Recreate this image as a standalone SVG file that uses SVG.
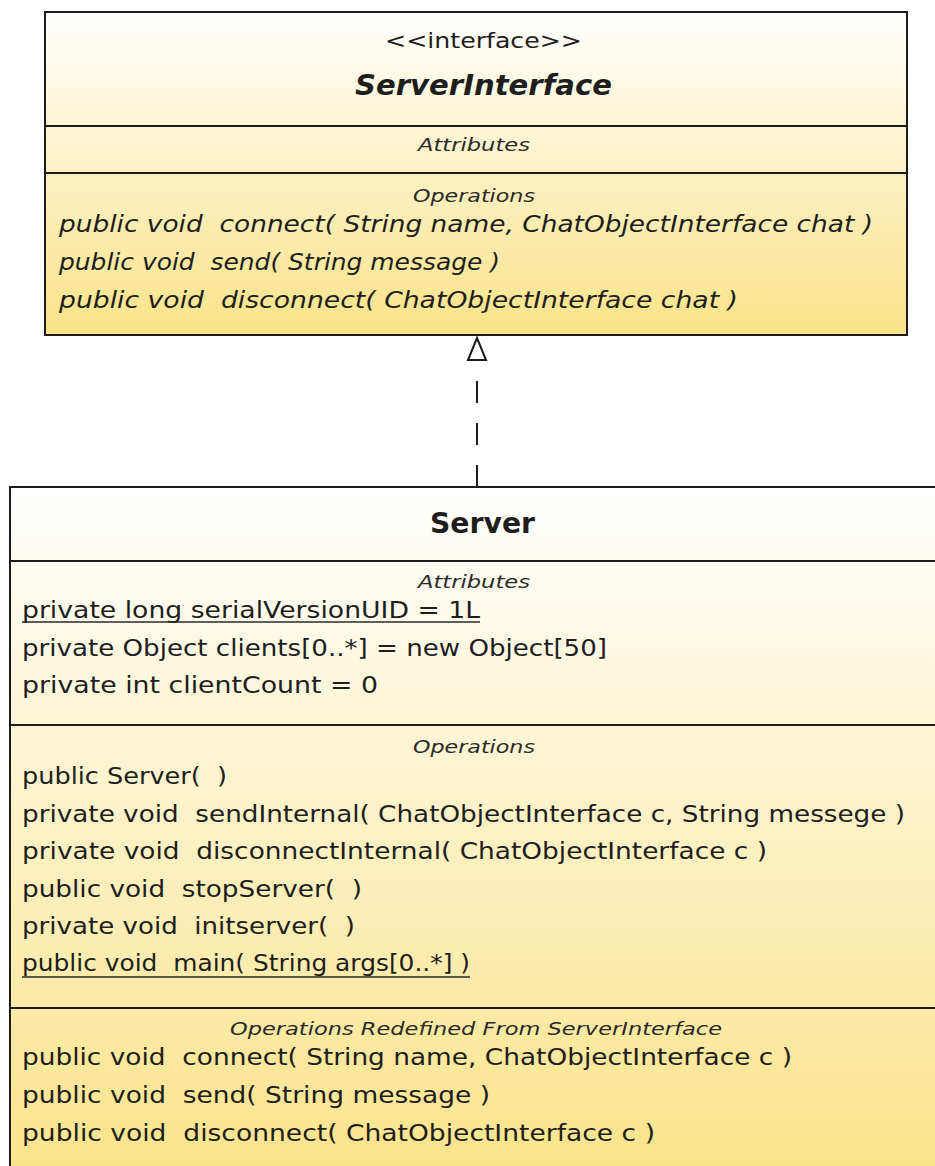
<svg xmlns="http://www.w3.org/2000/svg" width="935" height="1166" viewBox="0 0 935 1166">
<style>
text{font-family:"DejaVu Sans","Liberation Sans",sans-serif;fill:#1e1e1e;white-space:pre}
.m{font-size:23px}
.i{font-style:italic}
.lbl{font-size:18.5px;font-style:italic;fill:#2a2a2a}
.box{stroke:#1c1c1c;stroke-width:2}
.div{stroke:#1c1c1c;stroke-width:2}
.ul{stroke:#2a2a2a;stroke-width:1.5}
</style>
<defs>
<linearGradient id="g1" x1="0" y1="0" x2="0" y2="1">
<stop offset="0" stop-color="#ffffff"/>
<stop offset="1" stop-color="#fae388"/>
</linearGradient>
<linearGradient id="g2" x1="0" y1="0" x2="0" y2="1">
<stop offset="0" stop-color="#ffffff"/>
<stop offset="1" stop-color="#fae388"/>
</linearGradient>
</defs>
<rect width="935" height="1166" fill="#ffffff"/>
<g id="connectors">
<line x1="477" y1="487" x2="477" y2="360" stroke="#1c1c1c" stroke-width="2" stroke-dasharray="22 20"/>
<polygon points="477,338 468,360 486,360" fill="#ffffff" stroke="#1c1c1c" stroke-width="2"/>
</g>
<g id="ServerInterface">
<rect x="45" y="12" width="862" height="323" fill="url(#g1)" class="box"/>
<line x1="45" y1="126" x2="907" y2="126" class="div"/>
<line x1="45" y1="173" x2="907" y2="173" class="div"/>
<text x="483.5" y="48" font-size="21.5" text-anchor="middle" textLength="197" lengthAdjust="spacingAndGlyphs">&lt;&lt;interface&gt;&gt;</text>
<text x="483.5" y="95" font-size="29" font-weight="bold" font-style="italic" text-anchor="middle" textLength="257" lengthAdjust="spacingAndGlyphs">ServerInterface</text>
<text x="474" y="151" class="lbl" text-anchor="middle" textLength="112" lengthAdjust="spacingAndGlyphs">Attributes</text>
<text x="474" y="202" class="lbl" text-anchor="middle" textLength="122" lengthAdjust="spacingAndGlyphs">Operations</text>
<text x="59" y="232" class="m i" textLength="814" lengthAdjust="spacingAndGlyphs">public void  connect( String name, ChatObjectInterface chat )</text>
<text x="59" y="270" class="m i" textLength="441" lengthAdjust="spacingAndGlyphs">public void  send( String message )</text>
<text x="59" y="308" class="m i" textLength="679" lengthAdjust="spacingAndGlyphs">public void  disconnect( ChatObjectInterface chat )</text>
</g>
<g id="Server">
<rect x="10" y="487" width="940" height="700" fill="url(#g2)" class="box"/>
<line x1="10" y1="561" x2="935" y2="561" class="div"/>
<line x1="10" y1="725" x2="935" y2="725" class="div"/>
<line x1="10" y1="1008" x2="935" y2="1008" class="div"/>
<text x="482.5" y="533" font-size="29" font-weight="bold" text-anchor="middle" textLength="105" lengthAdjust="spacingAndGlyphs">Server</text>
<text x="474" y="588" class="lbl" text-anchor="middle" textLength="112" lengthAdjust="spacingAndGlyphs">Attributes</text>
<text x="22" y="618" class="m" textLength="458" lengthAdjust="spacingAndGlyphs">private long serialVersionUID = 1L</text>
<line x1="22" y1="622" x2="480" y2="622" class="ul"/>
<text x="22" y="656" class="m" textLength="585" lengthAdjust="spacingAndGlyphs">private Object clients[0..*] = new Object[50]</text>
<text x="22" y="693" class="m" textLength="356" lengthAdjust="spacingAndGlyphs">private int clientCount = 0</text>
<text x="474" y="753" class="lbl" text-anchor="middle" textLength="122" lengthAdjust="spacingAndGlyphs">Operations</text>
<text x="22" y="784" class="m" textLength="205" lengthAdjust="spacingAndGlyphs">public Server(  )</text>
<text x="22" y="822" class="m" textLength="883" lengthAdjust="spacingAndGlyphs">private void  sendInternal( ChatObjectInterface c, String messege )</text>
<text x="22" y="859" class="m" textLength="745" lengthAdjust="spacingAndGlyphs">private void  disconnectInternal( ChatObjectInterface c )</text>
<text x="22" y="897" class="m" textLength="340" lengthAdjust="spacingAndGlyphs">public void  stopServer(  )</text>
<text x="22" y="934" class="m" textLength="333" lengthAdjust="spacingAndGlyphs">private void  initserver(  )</text>
<text x="22" y="971" class="m" textLength="448" lengthAdjust="spacingAndGlyphs">public void  main( String args[0..*] )</text>
<line x1="22" y1="977" x2="470" y2="977" class="ul"/>
<text x="476" y="1035" class="lbl" text-anchor="middle" textLength="492" lengthAdjust="spacingAndGlyphs">Operations Redefined From ServerInterface</text>
<text x="22" y="1065" class="m" textLength="770" lengthAdjust="spacingAndGlyphs">public void  connect( String name, ChatObjectInterface c )</text>
<text x="22" y="1103" class="m" textLength="468" lengthAdjust="spacingAndGlyphs">public void  send( String message )</text>
<text x="22" y="1141" class="m" textLength="633" lengthAdjust="spacingAndGlyphs">public void  disconnect( ChatObjectInterface c )</text>
</g>
</svg>
